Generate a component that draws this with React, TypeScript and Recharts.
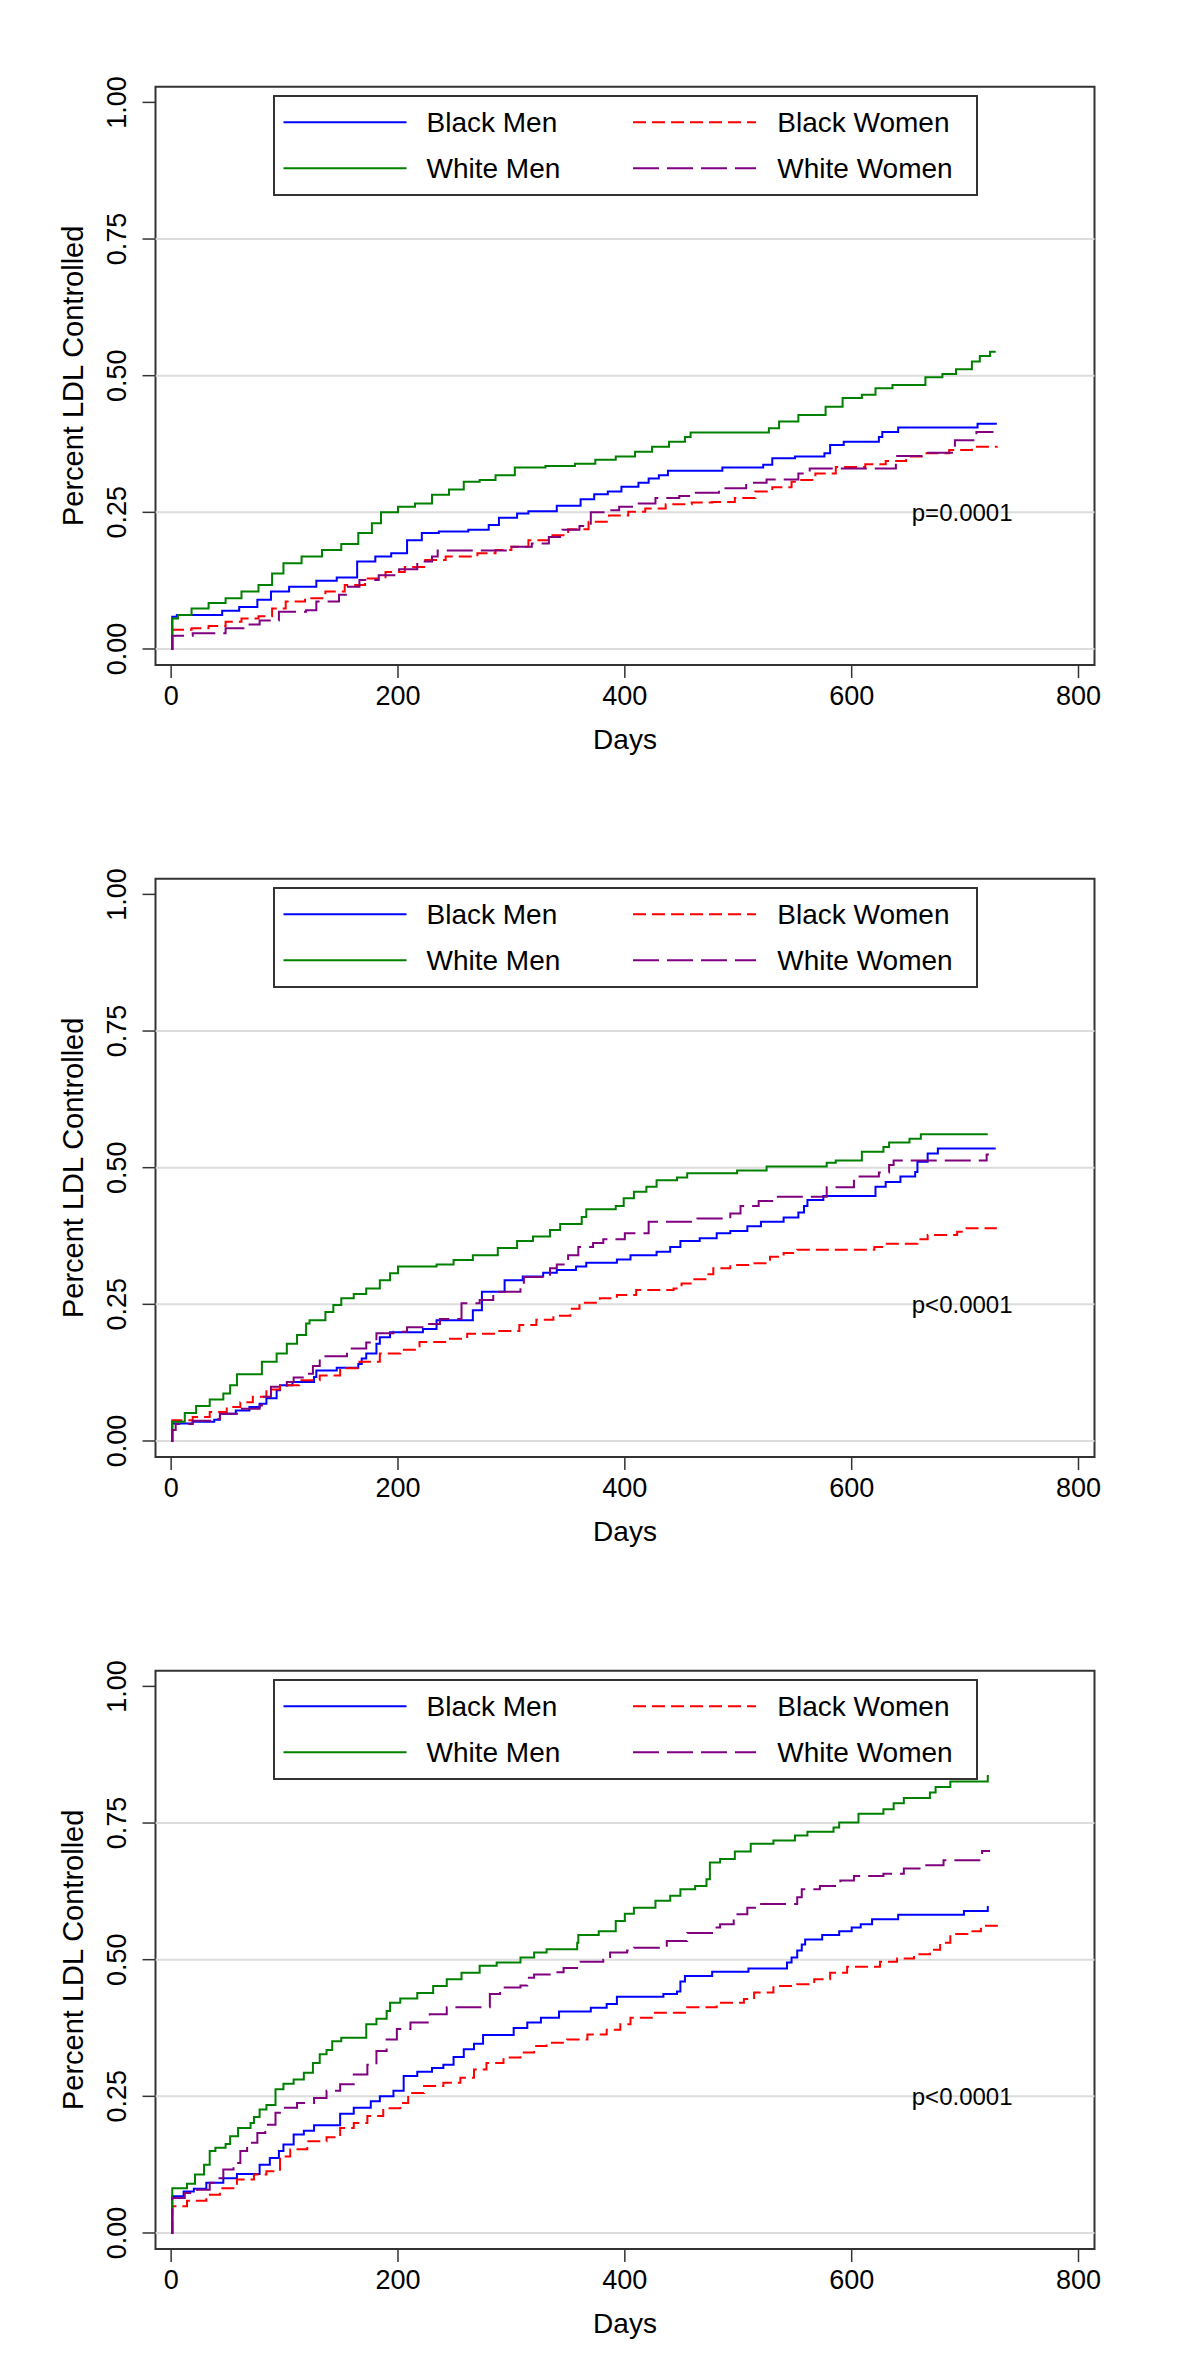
import React from "react"
import { LineChart, Line, XAxis, YAxis, ReferenceLine, ReferenceArea, ReferenceDot, Legend } from "recharts"

type Pt = [number, number]

// legend order is row-major: Black Men, Black Women / White Men, White Women
const groups = ["Black Men", "Black Women", "White Men", "White Women"]
const groupColors = ["#0000ff", "#ff0000", "#008000", "#800080"]
const groupDashes: (string | undefined)[] = [undefined, "13 6", undefined, "26 8"]

const xTicks = [0, 200, 400, 600, 800]
const yTicks = [0, 0.25, 0.5, 0.75, 1]
const gridLevels = [0, 0.25, 0.5, 0.75]
const xDomain: [number, number] = [-13.8, 814.1]
const yDomain: [number, number] = [-0.0293, 1.0287]
const pValues = ["p=0.0001", "p<0.0001", "p<0.0001"]
const pValueDay = 653
const pValueLevel = 0.25

// panel 1 (day, proportion controlled)
const p1BlackMen: Pt[] = [
  [0, 0], [1, 0.059], [5, 0.062], [45, 0.07], [60, 0.077], [76, 0.09], [88, 0.105], [104, 0.114], [128, 0.125],
  [146, 0.131], [164, 0.16], [180, 0.169], [194, 0.175], [208, 0.199], [221, 0.212], [236, 0.215], [262, 0.218],
  [280, 0.227], [289, 0.24], [305, 0.248], [315, 0.252], [340, 0.262], [361, 0.274], [373, 0.283], [385, 0.288],
  [397, 0.297], [412, 0.304], [421, 0.312], [430, 0.318], [438, 0.326], [486, 0.332], [522, 0.337], [530, 0.349],
  [550, 0.352], [576, 0.358], [581, 0.373], [593, 0.379], [624, 0.388], [627, 0.397], [641, 0.405], [711, 0.412],
  [728, 0.412],
]
const p1BlackWomen: Pt[] = [
  [0, 0], [1, 0.035], [18, 0.038], [33, 0.042], [48, 0.05], [62, 0.056], [77, 0.06], [89, 0.074], [101, 0.087],
  [118, 0.093], [136, 0.105], [153, 0.117], [171, 0.129], [189, 0.141], [206, 0.15], [224, 0.163], [242, 0.169],
  [270, 0.175], [286, 0.181], [300, 0.187], [315, 0.199], [333, 0.208], [350, 0.219], [368, 0.233], [386, 0.244],
  [403, 0.251], [418, 0.257], [436, 0.265], [459, 0.268], [477, 0.269], [497, 0.276], [515, 0.288], [530, 0.296],
  [547, 0.306], [554, 0.309], [568, 0.321], [586, 0.333], [612, 0.338], [630, 0.344], [648, 0.352], [665, 0.358],
  [686, 0.364], [706, 0.37], [728, 0.371],
]
const p1WhiteMen: Pt[] = [
  [0, 0], [1, 0.056], [6, 0.062], [18, 0.074], [33, 0.084], [48, 0.093], [62, 0.105], [77, 0.117], [89, 0.138],
  [99, 0.157], [115, 0.169], [133, 0.181], [150, 0.192], [165, 0.212], [177, 0.23], [185, 0.25], [200, 0.26],
  [215, 0.266], [230, 0.282], [245, 0.292], [258, 0.306], [272, 0.309], [286, 0.318], [303, 0.332], [330, 0.335],
  [356, 0.339], [374, 0.346], [392, 0.352], [409, 0.361], [424, 0.37], [439, 0.379], [453, 0.388], [458, 0.396],
  [527, 0.404], [536, 0.416], [553, 0.428], [577, 0.443], [592, 0.459], [609, 0.465], [621, 0.477], [636, 0.483],
  [665, 0.497], [680, 0.503], [692, 0.512], [706, 0.526], [713, 0.536], [722, 0.544], [727, 0.544],
]
const p1WhiteWomen: Pt[] = [
  [0, 0], [1, 0.024], [19, 0.029], [48, 0.038], [66, 0.045], [78, 0.052], [95, 0.068], [119, 0.071], [128, 0.087],
  [148, 0.099], [154, 0.114], [166, 0.126], [183, 0.135], [201, 0.146], [217, 0.16], [230, 0.169], [235, 0.18],
  [300, 0.187], [318, 0.193], [333, 0.205], [345, 0.218], [360, 0.225], [370, 0.25], [383, 0.254], [395, 0.26],
  [410, 0.266], [427, 0.276], [448, 0.28], [460, 0.286], [483, 0.294], [507, 0.304], [525, 0.31], [553, 0.321],
  [563, 0.33], [639, 0.353], [666, 0.359], [691, 0.382], [710, 0.397], [725, 0.397],
]

// panel 2
const p2BlackMen: Pt[] = [
  [0, 0], [1, 0.032], [19, 0.035], [38, 0.039], [43, 0.05], [57, 0.056], [69, 0.062], [78, 0.068], [84, 0.078],
  [93, 0.093], [96, 0.102], [107, 0.108], [126, 0.117], [128, 0.129], [146, 0.134], [165, 0.141], [168, 0.151],
  [172, 0.16], [181, 0.178], [184, 0.19], [193, 0.199], [222, 0.205], [234, 0.221], [266, 0.239], [274, 0.273],
  [294, 0.294], [310, 0.301], [328, 0.308], [340, 0.313], [357, 0.319], [366, 0.326], [393, 0.332], [405, 0.34],
  [428, 0.346], [440, 0.355], [449, 0.366], [466, 0.371], [481, 0.38], [493, 0.384], [508, 0.393], [520, 0.401],
  [540, 0.409], [553, 0.418], [558, 0.43], [561, 0.441], [575, 0.448], [621, 0.465], [630, 0.474], [643, 0.484],
  [656, 0.492], [658, 0.511], [667, 0.526], [676, 0.535], [727, 0.535],
]
const p2BlackWomen: Pt[] = [
  [0, 0], [1, 0.038], [19, 0.044], [34, 0.053], [49, 0.062], [61, 0.071], [72, 0.081], [84, 0.094], [96, 0.102],
  [113, 0.111], [131, 0.12], [149, 0.133], [166, 0.145], [184, 0.16], [202, 0.167], [219, 0.181], [243, 0.187],
  [261, 0.196], [288, 0.201], [307, 0.212], [322, 0.222], [337, 0.229], [352, 0.242], [360, 0.253], [378, 0.261],
  [393, 0.267], [410, 0.276], [443, 0.279], [450, 0.288], [458, 0.296], [472, 0.305], [478, 0.316], [493, 0.322],
  [510, 0.325], [528, 0.337], [540, 0.344], [552, 0.35], [620, 0.355], [631, 0.361], [658, 0.369], [667, 0.377],
  [693, 0.383], [698, 0.389], [728, 0.389],
]
const p2WhiteMen: Pt[] = [
  [0, 0], [1, 0.035], [12, 0.051], [22, 0.064], [34, 0.076], [46, 0.087], [52, 0.102], [58, 0.122], [80, 0.145],
  [93, 0.16], [102, 0.178], [111, 0.194], [119, 0.215], [122, 0.221], [136, 0.236], [143, 0.249], [150, 0.261],
  [161, 0.269], [172, 0.279], [184, 0.294], [193, 0.307], [200, 0.319], [234, 0.323], [249, 0.331], [266, 0.34],
  [288, 0.353], [305, 0.366], [319, 0.374], [334, 0.386], [343, 0.397], [362, 0.41], [366, 0.424], [392, 0.43],
  [399, 0.444], [408, 0.456], [419, 0.465], [428, 0.477], [446, 0.482], [455, 0.49], [499, 0.495], [525, 0.502],
  [578, 0.509], [586, 0.513], [609, 0.529], [628, 0.538], [633, 0.546], [651, 0.553], [661, 0.561], [720, 0.561],
]
const p2WhiteWomen: Pt[] = [
  [0, 0], [1, 0.02], [4, 0.031], [19, 0.037], [40, 0.04], [43, 0.05], [58, 0.059], [78, 0.065], [80, 0.081],
  [88, 0.099], [102, 0.108], [108, 0.116], [119, 0.123], [125, 0.137], [131, 0.155], [155, 0.169], [172, 0.18],
  [181, 0.197], [196, 0.2], [208, 0.208], [225, 0.214], [237, 0.223], [256, 0.252], [272, 0.258], [284, 0.273],
  [308, 0.283], [311, 0.3], [334, 0.316], [340, 0.323], [350, 0.34], [359, 0.355], [372, 0.362], [381, 0.369],
  [400, 0.38], [421, 0.401], [464, 0.407], [493, 0.416], [502, 0.43], [518, 0.439], [531, 0.447], [578, 0.464],
  [602, 0.484], [624, 0.491], [633, 0.505], [637, 0.513], [719, 0.524], [721, 0.524],
]

// panel 3
const p3BlackMen: Pt[] = [
  [0, 0], [1, 0.067], [11, 0.076], [20, 0.081], [31, 0.092], [46, 0.1], [58, 0.108], [78, 0.125], [87, 0.137],
  [95, 0.15], [99, 0.162], [108, 0.18], [117, 0.187], [126, 0.197], [149, 0.218], [161, 0.229], [176, 0.241],
  [184, 0.25], [196, 0.26], [205, 0.287], [217, 0.295], [230, 0.302], [240, 0.308], [249, 0.322], [258, 0.336],
  [267, 0.346], [275, 0.362], [302, 0.375], [314, 0.385], [326, 0.394], [342, 0.405], [370, 0.412], [384, 0.419],
  [393, 0.432], [434, 0.437], [446, 0.442], [449, 0.46], [453, 0.47], [477, 0.478], [509, 0.484], [543, 0.495],
  [547, 0.504], [552, 0.517], [556, 0.528], [559, 0.537], [574, 0.545], [589, 0.552], [600, 0.559], [608, 0.565],
  [618, 0.574], [641, 0.582], [699, 0.589], [720, 0.598],
]
const p3BlackWomen: Pt[] = [
  [0, 0], [1, 0.049], [14, 0.059], [31, 0.07], [43, 0.082], [58, 0.098], [73, 0.107], [84, 0.113], [96, 0.14],
  [105, 0.153], [120, 0.168], [137, 0.175], [149, 0.192], [161, 0.201], [173, 0.214], [187, 0.228], [202, 0.238],
  [209, 0.256], [223, 0.269], [240, 0.275], [255, 0.284], [267, 0.299], [278, 0.311], [293, 0.321], [308, 0.33],
  [320, 0.342], [331, 0.348], [349, 0.354], [367, 0.363], [384, 0.372], [396, 0.382], [405, 0.394], [425, 0.403],
  [455, 0.413], [481, 0.421], [505, 0.428], [514, 0.44], [531, 0.452], [552, 0.455], [567, 0.464], [581, 0.476],
  [596, 0.487], [625, 0.496], [640, 0.502], [655, 0.51], [669, 0.518], [678, 0.531], [687, 0.547], [702, 0.552],
  [714, 0.562], [728, 0.568],
]
const p3WhiteMen: Pt[] = [
  [0, 0], [1, 0.082], [14, 0.09], [21, 0.107], [29, 0.125], [34, 0.15], [39, 0.156], [48, 0.163], [52, 0.177],
  [59, 0.192], [70, 0.201], [73, 0.212], [78, 0.226], [84, 0.234], [92, 0.263], [99, 0.273], [108, 0.281],
  [117, 0.293], [125, 0.311], [131, 0.327], [137, 0.335], [142, 0.351], [150, 0.357], [172, 0.382], [181, 0.392],
  [190, 0.406], [193, 0.421], [202, 0.429], [217, 0.439], [231, 0.452], [243, 0.464], [256, 0.476], [272, 0.489],
  [287, 0.495], [308, 0.504], [320, 0.513], [331, 0.519], [358, 0.531], [359, 0.545], [377, 0.552], [392, 0.571],
  [400, 0.584], [408, 0.595], [427, 0.608], [440, 0.617], [449, 0.629], [462, 0.635], [472, 0.647], [475, 0.678],
  [484, 0.684], [497, 0.698], [511, 0.712], [531, 0.718], [550, 0.727], [561, 0.734], [584, 0.742], [589, 0.751],
  [606, 0.767], [628, 0.775], [637, 0.786], [646, 0.796], [669, 0.806], [674, 0.816], [687, 0.826], [720, 0.836],
  [721, 0.836],
]
const p3WhiteWomen: Pt[] = [
  [0, 0], [1, 0.064], [12, 0.073], [23, 0.079], [34, 0.092], [39, 0.1], [46, 0.116], [55, 0.128], [61, 0.15],
  [67, 0.165], [76, 0.183], [83, 0.198], [92, 0.22], [99, 0.229], [111, 0.238], [126, 0.247], [137, 0.26],
  [149, 0.272], [161, 0.29], [173, 0.308], [181, 0.333], [190, 0.354], [199, 0.373], [211, 0.385], [228, 0.4],
  [243, 0.413], [281, 0.437], [290, 0.449], [308, 0.453], [314, 0.467], [320, 0.473], [337, 0.477], [346, 0.485],
  [361, 0.496], [381, 0.5], [387, 0.513], [402, 0.517], [408, 0.522], [437, 0.534], [455, 0.549], [478, 0.559],
  [484, 0.565], [496, 0.583], [508, 0.595], [517, 0.602], [552, 0.614], [556, 0.629], [572, 0.635], [590, 0.645],
  [602, 0.653], [628, 0.657], [646, 0.667], [661, 0.673], [681, 0.682], [715, 0.699], [722, 0.699],
]

const panels: Pt[][][] = [
  [p1BlackMen, p1BlackWomen, p1WhiteMen, p1WhiteWomen],
  [p2BlackMen, p2BlackWomen, p2WhiteMen, p2WhiteWomen],
  [p3BlackMen, p3BlackWomen, p3WhiteMen, p3WhiteWomen],
]

const font = "'Liberation Sans', Arial, Helvetica, sans-serif"
const frameColor = "#333333"

function YTick(props: any) {
  const { x, y, payload } = props
  return (
    <text
      x={x}
      y={y}
      dy="0.36em"
      transform={`rotate(-90 ${x} ${y})`}
      textAnchor="middle"
      fontSize={27}
      fontFamily={font}
      fill="#000"
    >
      {Number(payload.value).toFixed(2)}
    </text>
  )
}

function YTitle(props: any) {
  const vb = props.viewBox ?? { x: 56, y: 86.7, width: 100, height: 578.3 }
  const cx = vb.x + 16.7
  const cy = vb.y + vb.height / 2
  return (
    <text x={cx} y={cy} dy="0.36em" transform={`rotate(-90 ${cx} ${cy})`} textAnchor="middle" fontSize={29} fontFamily={font} fill="#000">
      Percent LDL Controlled
    </text>
  )
}

function XTitle(props: any) {
  const vb = props.viewBox ?? { x: 155.5, y: 665, width: 939, height: 90 }
  const cx = vb.x + vb.width / 2
  const cy = vb.y + 73.6
  return (
    <text x={cx} y={cy} dy="0.36em" textAnchor="middle" fontSize={28} fontFamily={font} fill="#000">
      Days
    </text>
  )
}

function LegendBox() {
  return (
    <svg width={705} height={101} style={{ display: "block" }}>
      <rect x={1} y={1} width={703} height={99} fill="#fff" stroke={frameColor} strokeWidth={2} />
      {groups.map((name, i) => {
        const col = i % 2
        const row = Math.floor(i / 2)
        const lx = col === 0 ? 10.5 : 360
        const tx = col === 0 ? 153.5 : 504.3
        const y = row === 0 ? 27.3 : 73.3
        return (
          <g key={name}>
            <line x1={lx} x2={lx + 123} y1={y} y2={y} stroke={groupColors[i]} strokeWidth={2} strokeDasharray={groupDashes[i]} />
            <text x={tx} y={y} dy="0.36em" fontSize={28} fontFamily={font} fill="#000">
              {name}
            </text>
          </g>
        )
      })}
    </svg>
  )
}

function Panel({ series, pLabel }: { series: Pt[][]; pLabel: string }) {
  return (
    <LineChart width={1200} height={792} margin={{ top: 86.7, right: 105.5, bottom: 37, left: 55.5 }}>
      <XAxis
        type="number"
        dataKey="day"
        domain={xDomain}
        allowDataOverflow
        ticks={xTicks}
        interval={0}
        height={90}
        axisLine={false}
        tickSize={13}
        tickMargin={8}
        tickLine={{ stroke: frameColor, strokeWidth: 1.5 }}
        tick={{ fontSize: 27, fill: "#000", fontFamily: font }}
        label={{ content: XTitle }}
      />
      <YAxis
        type="number"
        domain={yDomain}
        allowDataOverflow
        ticks={yTicks}
        interval={0}
        width={100}
        axisLine={false}
        tickSize={13}
        tickMargin={26}
        tickLine={{ stroke: frameColor, strokeWidth: 1.5 }}
        tick={YTick}
        label={{ content: YTitle }}
      />
      {gridLevels.map((v) => (
        <ReferenceLine key={v} y={v} stroke="#dcdcdc" strokeWidth={2} />
      ))}
      <ReferenceArea
        x1={xDomain[0]}
        x2={xDomain[1]}
        y1={yDomain[0]}
        y2={yDomain[1]}
        fill="none"
        fillOpacity={0}
        stroke={frameColor}
        strokeWidth={2}
        ifOverflow="visible"
      />
      {series.map((pts, i) => (
        <Line
          key={groups[i]}
          name={groups[i]}
          data={pts.map(([day, value]) => ({ day, value }))}
          dataKey="value"
          type="stepAfter"
          stroke={groupColors[i]}
          strokeWidth={2}
          strokeDasharray={groupDashes[i]}
          dot={false}
          activeDot={false}
          isAnimationActive={false}
        />
      ))}
      <ReferenceDot
        x={pValueDay}
        y={pValueLevel}
        r={0}
        shape={(p: any) => (
          <text x={p.cx} y={p.cy} dy="0.36em" fontSize={24} fontFamily={font} fill="#000">
            {pLabel}
          </text>
        )}
      />
      <Legend
        layout="horizontal"
        verticalAlign="middle"
        align="center"
        content={() => <LegendBox />}
        wrapperStyle={{ left: 272.5, top: 95, width: 705, height: 101 }}
      />
    </LineChart>
  )
}

export default function App() {
  return (
    <div style={{ width: 1200, background: "#fff" }}>
      <style>{"body{margin:0;background:#fff}"}</style>
      {panels.map((s, i) => (
        <Panel key={i} series={s} pLabel={pValues[i]} />
      ))}
    </div>
  )
}
